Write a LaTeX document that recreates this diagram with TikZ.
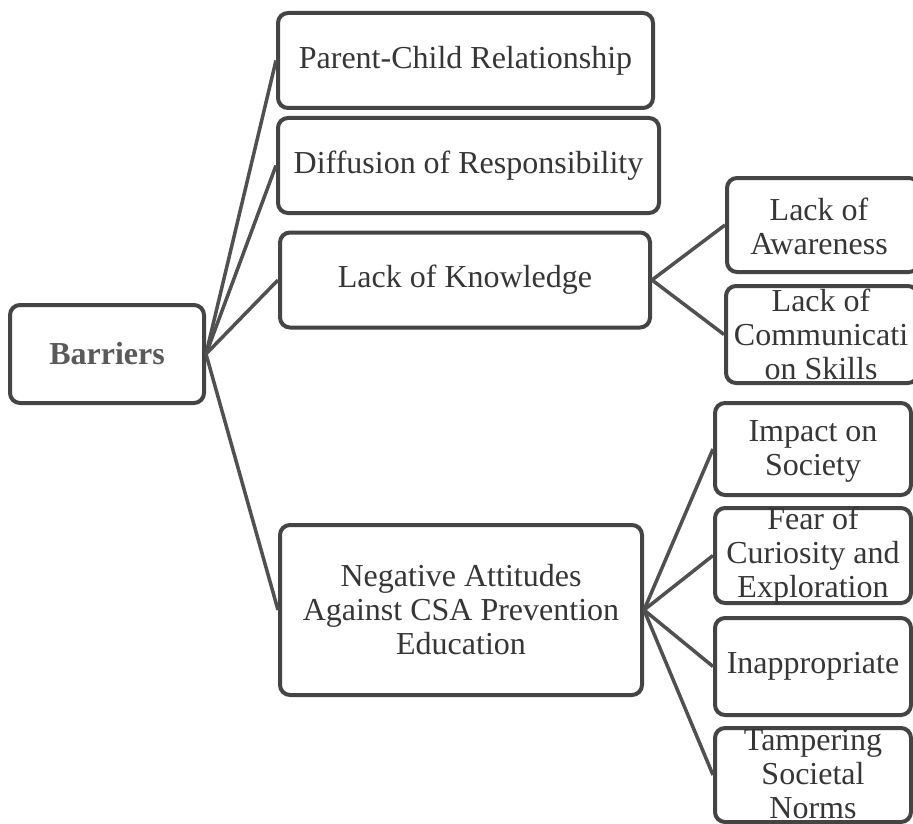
\documentclass[tikz,border=0pt]{standalone}
\usepackage{fontspec}
\setmainfont{Liberation Serif}
\definecolor{edgegray}{HTML}{444444}
\definecolor{linkgray}{HTML}{505050}
\definecolor{inkgray}{HTML}{363636}
\definecolor{headgray}{HTML}{5A5A5A}
\begin{document}
\begin{tikzpicture}[x=1pt,y=-1pt,
  card/.style={draw=edgegray, line width=4pt, rounded corners=10pt,
    inner sep=0pt, fill=white},
  lbl/.style={text=inkgray, align=center, inner sep=0pt,
    font=\rmfamily\fontsize{32}{34}\selectfont},
  link/.style={draw=linkgray, line width=3.5pt}]
\useasboundingbox (0,0) rectangle (913,824);
\fill[white] (0,0) rectangle (913,824);

% boxes (empty shapes, text placed on top)
\node[card, minimum width=194pt, minimum height=98pt] (bar) at (107,354) {};
\node[card, minimum width=375pt, minimum height=95pt] (pc) at (465.5,60.5) {};
\node[card, minimum width=381pt, minimum height=95pt] (diff) at (468.5,165.5) {};
\node[card, minimum width=370pt, minimum height=95pt] (know) at (465,280) {};
\node[card, minimum width=362pt, minimum height=170pt] (neg) at (461,610) {};
\node[card, minimum width=192pt, minimum height=94pt] (aware) at (823,225) {};
\node[card, minimum width=192pt, minimum height=97pt] (comm) at (822,334.5) {};
\node[card, minimum width=196pt, minimum height=92pt] (imp) at (813,449) {};
\node[card, minimum width=196pt, minimum height=95pt] (fear) at (813,555.5) {};
\node[card, minimum width=196pt, minimum height=97pt] (inap) at (813,666.5) {};
\node[card, minimum width=196pt, minimum height=94pt] (tamp) at (813,775) {};

% labels
\node[lbl, text=headgray, font=\rmfamily\fontsize{32}{34}\selectfont\bfseries] (barT) at (bar) {Barriers};
\node[lbl] (pcT) at (pc) {Parent-Child Relationship};
\node[lbl] (diffT) at (diff) {Diffusion of Responsibility};
\node[lbl] (knowT) at (know) {Lack of Knowledge};
\node[lbl] (negT) at (neg) {Negative Attitudes\\Against CSA Prevention\\Education};
\node[lbl] (awareT) at (819,226) {Lack of\\Awareness};
\node[lbl] (commT) at (821,334) {Lack of\\Communicati\\on Skills};
\node[lbl] (impT) at (813,451) {Impact on\\Society};
\node[lbl] (fearT) at (813,556) {Fear of\\Curiosity and\\Exploration};
\node[lbl] (inapT) at (813,666) {Inappropriate};
\node[lbl] (tampT) at (813,774) {Tampering\\Societal\\Norms};

% connectors
\draw[link] (bar.east) -- (pc.west);
\draw[link] (bar.east) -- (diff.west);
\draw[link] (bar.east) -- (know.west);
\draw[link] (bar.east) -- (neg.west);
\draw[link] (know.east) -- (aware.west);
\draw[link] (know.east) -- (comm.west);
\draw[link] (neg.east) -- (imp.west);
\draw[link] (neg.east) -- (fear.west);
\draw[link] (neg.east) -- (inap.west);
\draw[link] (neg.east) -- (tamp.west);
\end{tikzpicture}
\end{document}
